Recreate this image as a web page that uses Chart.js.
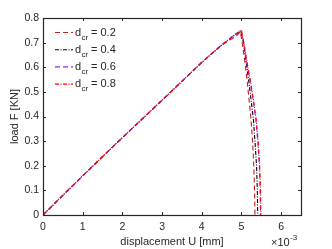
<!DOCTYPE html>
<html><head><meta charset="utf-8">
<script src="https://cdn.jsdelivr.net/npm/chart.js@4.4.1/dist/chart.umd.min.js"></script>
<style>html,body{margin:0;padding:0;background:#fff;}#wrap{width:332px;height:249px;position:relative;}</style>
</head><body><div id="wrap"><canvas id="c" width="332" height="249"></canvas></div>
<script>
// displacement U in units of 1e-3 mm, load F in KN
const seriesLabels = ['0.2', '0.4', '0.6', '0.8'];
const rampU = [0, 0.5, 1, 1.5, 2, 2.5, 3, 3.5, 4, 4.5];
const rampF = [0, 0.080, 0.159, 0.237, 0.314, 0.390, 0.466, 0.543, 0.620, 0.690];
const u02 = [4.65, 4.77, 4.9, 4.97, 5.02, 5.08, 5.14, 5.19, 5.24, 5.28, 5.31, 5.33, 5.34];
const f02 = [0.705, 0.717, 0.732, 0.744, 0.70, 0.63, 0.55, 0.47, 0.39, 0.30, 0.20, 0.10, 0.0];
const u04 = [4.8, 4.98, 5.05, 5.11, 5.18, 5.24, 5.30, 5.34, 5.38, 5.40, 5.41];
const f04 = [0.727, 0.749, 0.70, 0.63, 0.55, 0.47, 0.39, 0.30, 0.20, 0.10, 0.0];
const u06 = [4.8, 4.99, 5.06, 5.12, 5.21, 5.29, 5.36, 5.41, 5.45, 5.47, 5.48];
const f06 = [0.728, 0.751, 0.70, 0.63, 0.55, 0.47, 0.39, 0.30, 0.20, 0.10, 0.0];
const u08 = [4.8, 5.0, 5.06, 5.13, 5.22, 5.30, 5.37, 5.42, 5.46, 5.48, 5.49];
const f08 = [0.728, 0.751, 0.70, 0.63, 0.55, 0.47, 0.39, 0.30, 0.20, 0.10, 0.0];
const xTicks = [0, 1, 2, 3, 4, 5, 6];
const yTicks = [0, 0.1, 0.2, 0.3, 0.4, 0.5, 0.6, 0.7, 0.8];

const colors = ['#c01e1e', '#000000', '#9b24ff', '#ff0000'];
const dashes = [[5,3], [4,1.5,1,1.5], [5,3], [4,1.5,1,1.5]];
function pts(us, fs){ return rampU.map((u,i)=>({x:u,y:rampF[i]})).concat(us.map((u,i)=>({x:u,y:fs[i]}))); }
const allU = [u02,u04,u06,u08], allF = [f02,f04,f06,f08];
const datasets = seriesLabels.map((l,i)=>({
  label: 'd_cr = ' + l, data: pts(allU[i], allF[i]),
  borderColor: colors[i], borderWidth: 1.1, borderDash: dashes[i],
  pointRadius: 0, fill: false, tension: 0, order: 3 - i
}));
const FONT = "'Liberation Sans', Arial, Helvetica, sans-serif";
const axisColor = '#262626';

const frame = {
  id: 'frame',
  afterDatasetsDraw(chart){
    const {ctx, chartArea:a, scales:{x, y}} = chart;
    ctx.save();
    ctx.strokeStyle = axisColor; ctx.lineWidth = 1; ctx.setLineDash([]);
    ctx.beginPath();
    x.ticks.forEach(t=>{ const p = Math.round(x.getPixelForValue(t.value))+0.5;
      ctx.moveTo(p, a.bottom); ctx.lineTo(p, a.bottom-3);
      ctx.moveTo(p, a.top); ctx.lineTo(p, a.top+3); });
    y.ticks.forEach(t=>{ const p = Math.round(y.getPixelForValue(t.value))+0.5;
      ctx.moveTo(a.left, p); ctx.lineTo(a.left+3, p);
      ctx.moveTo(a.right, p); ctx.lineTo(a.right-3, p); });
    ctx.stroke();
    ctx.lineWidth = 1.2;
    ctx.strokeRect(Math.round(a.left)+0.5, Math.round(a.top)+0.5, Math.round(a.right-a.left), Math.round(a.bottom-a.top));
    // exponent label
    ctx.fillStyle = axisColor;
    ctx.font = '11px ' + FONT; ctx.textBaseline = 'alphabetic'; ctx.textAlign = 'left';
    ctx.fillText('\u00d710', 271, 246);
    ctx.font = '8px ' + FONT;
    ctx.fillText('-3', 290, 240);
    // legend
    chart.data.datasets.forEach((ds, i)=>{
      const yy = 32 + i*17.2 + 0.5;
      ctx.strokeStyle = ds.borderColor; ctx.lineWidth = 1.1; ctx.setLineDash(ds.borderDash);
      ctx.beginPath(); ctx.moveTo(55, yy); ctx.lineTo(73, yy); ctx.stroke();
      ctx.setLineDash([]);
      ctx.fillStyle = axisColor;
      ctx.font = '11px ' + FONT; ctx.textBaseline = 'middle';
      ctx.fillText('d', 75, yy);
      ctx.font = '8px ' + FONT;
      ctx.fillText('cr', 81.5, yy + 5);
      ctx.font = '11px ' + FONT;
      ctx.fillText('= ' + seriesLabels[i], 91, yy);
    });
    ctx.restore();
  }
};

new Chart(document.getElementById('c'), {
  type: 'line',
  data: { datasets },
  options: {
    responsive: false, animation: false, devicePixelRatio: 1,
    layout: { padding: { top: 18, right: 31, left: 0, bottom: 0 } },
    plugins: { legend: { display: false }, tooltip: { enabled: false } },
    scales: {
      x: { type: 'linear', min: 0, max: 6.5,
        afterBuildTicks: s => { s.ticks = xTicks.map(v=>({value:v})); },
        afterFit: s => { s.height = 34; },
        grid: { display: false, drawTicks: false },
        border: { display: false },
        ticks: { color: axisColor, font: { family: FONT, size: 10.5 }, padding: 6, maxRotation: 0,
          callback: v => String(v) },
        title: { display: true, text: 'displacement U [mm]', color: axisColor, font: { family: FONT, size: 11 }, padding: { top: 0, bottom: 0 } }
      },
      y: { type: 'linear', min: 0, max: 0.8,
        afterBuildTicks: s => { s.ticks = yTicks.map(v=>({value:v})); },
        afterFit: s => { s.width = 43; },
        grid: { display: false, drawTicks: false },
        border: { display: false },
        ticks: { color: axisColor, font: { family: FONT, size: 10.5 }, padding: 4,
          callback: v => String(Math.round(v*10)/10) },
        title: { display: true, text: 'load F [KN]', color: axisColor, font: { family: FONT, size: 11 }, padding: { top: 8, bottom: 2 } }
      }
    }
  },
  plugins: [frame]
});
</script></body></html>
